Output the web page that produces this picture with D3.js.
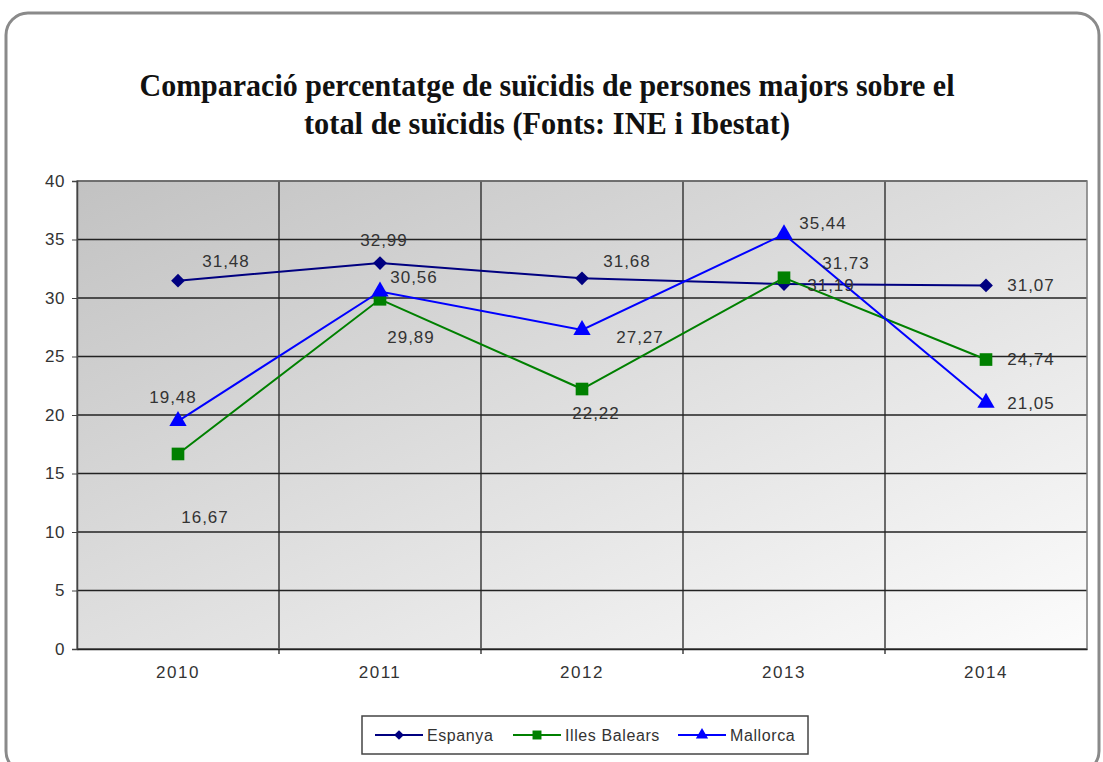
<!DOCTYPE html>
<html>
<head>
<meta charset="utf-8">
<script src="https://cdn.jsdelivr.net/npm/d3@7"></script>
<style>
  body { margin: 0; background: #fff; }
  svg { display: block; }
</style>
</head>
<body>
<div class="chart"></div>
<script>
// chart data
var years = ["2010", "2011", "2012", "2013", "2014"];
var espanya = [31.48, 32.99, 31.68, 31.19, 31.07];
var illesBalears = [16.67, 29.89, 22.22, 31.73, 24.74];
var mallorca = [19.48, 30.56, 27.27, 35.44, 21.05];
var yTicks = [0, 5, 10, 15, 20, 25, 30, 35, 40];
var seriesNames = ["Espanya", "Illes Balears", "Mallorca"];

// label offsets (px) relative to each point, as the original placed them
var labelOffsets = [
    [[48, -20], [4, -23], [45, -17], [47, 1], [45, 0]],
    [[27, 63], [31, 38], [14, 24], [62, -15], [45, 0]],
    [[-5, -24], [34, -14], [58, 7], [39, -11], [45, 0]]
];

var svgWidth = 1103;
var svgHeight = 762;

var margin = { top: 181, right: 16, bottom: 113, left: 77 };
var width = 1087 - margin.left;
var height = 649 - margin.top;

var svg = d3.select(".chart")
    .append("svg")
    .attr("width", svgWidth)
    .attr("height", svgHeight)
    .style("font-family", "Arial, 'Liberation Sans', sans-serif");

var defs = svg.append("defs");
var grad = defs.append("linearGradient")
    .attr("id", "plotBg")
    .attr("x1", "0%").attr("y1", "0%")
    .attr("x2", "100%").attr("y2", "100%");
grad.append("stop").attr("offset", "0%").attr("stop-color", "#c2c2c2");
grad.append("stop").attr("offset", "55%").attr("stop-color", "#e2e2e2");
grad.append("stop").attr("offset", "100%").attr("stop-color", "#fcfcfc");

// outer rounded frame
svg.append("rect")
    .attr("x", 6).attr("y", 13)
    .attr("width", 1093).attr("height", 760)
    .attr("rx", 22).attr("ry", 22)
    .attr("fill", "#fff")
    .attr("stroke", "#8a8a8a")
    .attr("stroke-width", 3);

// title
var title = svg.append("text")
    .attr("text-anchor", "middle")
    .style("font-family", "'Liberation Serif', 'Times New Roman', serif")
    .style("font-weight", "bold")
    .style("font-size", "31px")
    .attr("fill", "#111");
title.append("tspan").attr("x", 547).attr("y", 96)
    .attr("textLength", 815).attr("lengthAdjust", "spacingAndGlyphs")
    .text("Comparació  percentatge de suïcidis de persones majors sobre el");
title.append("tspan").attr("x", 547).attr("y", 134)
    .attr("textLength", 486).attr("lengthAdjust", "spacingAndGlyphs")
    .text("total  de suïcidis (Fonts: INE i Ibestat)");

var chartGroup = svg.append("g")
    .attr("transform", `translate(${margin.left}, ${margin.top})`);

// scales
var xScale = d3.scaleBand()
    .domain(years)
    .range([0, width]);

var yScale = d3.scaleLinear()
    .domain([0, 40])
    .range([height, 0]);

chartGroup.append("rect")
    .attr("width", width)
    .attr("height", height)
    .attr("fill", "url(#plotBg)");

// gridlines
chartGroup.append("g")
    .selectAll("line")
    .data(yTicks)
    .enter()
    .append("line")
    .attr("x1", 0).attr("x2", width)
    .attr("y1", d => yScale(d)).attr("y2", d => yScale(d))
    .attr("stroke", "#222")
    .attr("stroke-width", 1.3);

chartGroup.append("g")
    .selectAll("line")
    .data(years.slice(1))
    .enter()
    .append("line")
    .attr("x1", d => xScale(d)).attr("x2", d => xScale(d))
    .attr("y1", 0).attr("y2", height + 5)
    .attr("stroke", "#222")
    .attr("stroke-width", 1.3);

chartGroup.append("rect")
    .attr("width", width)
    .attr("height", height)
    .attr("fill", "none")
    .attr("stroke", "#7a7a7a")
    .attr("stroke-width", 1.5);

// axes
var yAxis = d3.axisLeft(yScale).tickValues(yTicks).tickSize(5).tickPadding(7);
var yG = chartGroup.append("g").call(yAxis);
yG.select(".domain").attr("stroke", "#444").attr("stroke-width", 1.5);
yG.selectAll(".tick line").attr("stroke", "#444");
yG.selectAll("text")
    .style("font-size", "17px")
    .style("letter-spacing", "0.5px")
    .attr("fill", "#333");

var xAxis = d3.axisBottom(xScale).tickSize(0).tickPadding(17);
var xG = chartGroup.append("g")
    .attr("transform", `translate(0,${height})`)
    .call(xAxis);
xG.select(".domain").attr("stroke", "#222").attr("stroke-width", 1.5);
xG.selectAll("text")
    .style("font-size", "17px")
    .style("letter-spacing", "1.5px")
    .attr("fill", "#333");

var series = [
    { name: seriesNames[0], values: espanya, color: "#000080", shape: d3.symbolSquare, size: 95, rotate: 45 },
    { name: seriesNames[1], values: illesBalears, color: "#008000", shape: d3.symbolSquare, size: 160, rotate: 0 },
    { name: seriesNames[2], values: mallorca, color: "#0000ff", shape: d3.symbolTriangle, size: 130, rotate: 0 }
];

var cx = d => xScale(d) + xScale.bandwidth() / 2;

var line = d3.line()
    .x((d, i) => cx(years[i]))
    .y(d => yScale(d));

series.forEach(function(s) {
    chartGroup.append("path")
        .datum(s.values)
        .attr("d", line)
        .attr("fill", "none")
        .attr("stroke", s.color)
        .attr("stroke-width", 2);
});

series.forEach(function(s) {
    chartGroup.selectAll(null)
        .data(s.values)
        .enter()
        .append("path")
        .attr("d", d3.symbol().type(s.shape).size(s.size))
        .attr("transform", (d, i) => `translate(${cx(years[i])},${yScale(d)}) rotate(${s.rotate})`)
        .attr("fill", s.color);
});

// data labels
series.forEach(function(s, si) {
    chartGroup.selectAll(null)
        .data(s.values)
        .enter()
        .append("text")
        .attr("x", (d, i) => cx(years[i]) + labelOffsets[si][i][0])
        .attr("y", (d, i) => yScale(d) + labelOffsets[si][i][1])
        .attr("text-anchor", "middle")
        .attr("dy", "0.35em")
        .style("font-size", "17px")
        .style("letter-spacing", "1px")
        .attr("fill", "#333")
        .text(d => d.toFixed(2).replace(".", ","));
});

// legend
var legend = svg.append("g").attr("transform", "translate(362,716)");
legend.append("rect")
    .attr("width", 446).attr("height", 38)
    .attr("fill", "#fff")
    .attr("stroke", "#444")
    .attr("stroke-width", 1.5);

var legendX = [13, 151, 316];
series.forEach(function(s, i) {
    var g = legend.append("g").attr("transform", `translate(${legendX[i]},19)`);
    g.append("line")
        .attr("x1", 0).attr("x2", 48)
        .attr("stroke", s.color).attr("stroke-width", 2);
    g.append("path")
        .attr("d", d3.symbol().type(s.shape).size(s.size * 0.5))
        .attr("transform", `translate(24,0) rotate(${s.rotate})`)
        .attr("fill", s.color);
    g.append("text")
        .attr("x", 52).attr("dy", "0.35em")
        .style("font-size", "16px")
        .style("letter-spacing", "0.6px")
        .attr("fill", "#333")
        .text(s.name);
});
</script>
</body>
</html>
